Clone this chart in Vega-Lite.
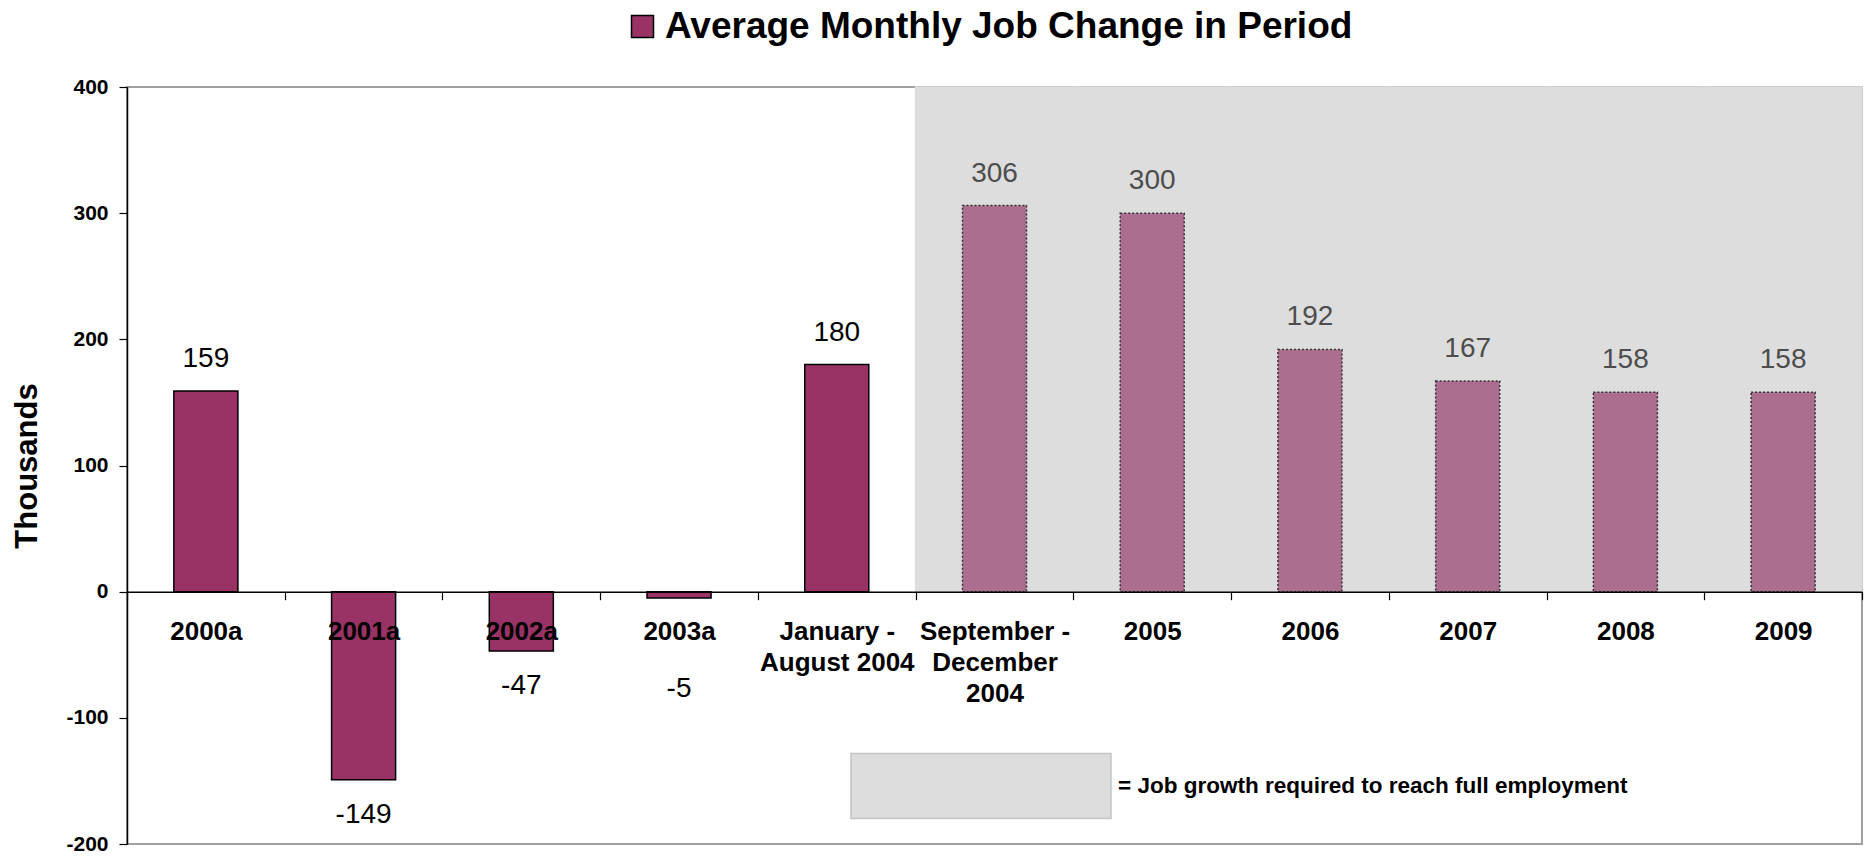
{
  "$schema": "https://vega.github.io/schema/vega-lite/v6.json",
  "autosize": "none",
  "width": 1735,
  "height": 757,
  "padding": {"left": 127, "top": 87, "right": 2, "bottom": 12},
  "background": "white",
  "config": {
    "font": "Liberation Sans",
    "view": {"stroke": "#a0a0a0", "strokeWidth": 2}
  },
  "data": {
    "values": [
      {"period": "2000a", "value": 159, "type": "actual"},
      {"period": "2001a", "value": -149, "type": "actual"},
      {"period": "2002a", "value": -47, "type": "actual"},
      {"period": "2003a", "value": -5, "type": "actual"},
      {"period": "January - August 2004", "value": 180, "type": "actual"},
      {"period": "September - December 2004", "value": 306, "type": "required"},
      {"period": "2005", "value": 300, "type": "required"},
      {"period": "2006", "value": 192, "type": "required"},
      {"period": "2007", "value": 167, "type": "required"},
      {"period": "2008", "value": 158, "type": "required"},
      {"period": "2009", "value": 158, "type": "required"}
    ]
  },
  "encoding": {
    "x": {
      "field": "period",
      "type": "nominal",
      "sort": ["2000a", "2001a", "2002a", "2003a", "January - August 2004", "September - December 2004", "2005", "2006", "2007", "2008", "2009"],
      "scale": {"paddingInner": 0, "paddingOuter": 0},
      "axis": {
        "title": null,
        "orient": "bottom",
        "offset": -252.3,
        "zindex": 2,
        "domainColor": "black",
        "domainWidth": 1.5,
        "tickColor": "black",
        "tickWidth": 1.2,
        "tickSize": 8,
        "tickBand": "extent",
        "labelAngle": 0,
        "labelFont": "Liberation Sans",
        "labelFontSize": 26,
        "labelFontWeight": "bold",
        "labelColor": "black",
        "labelPadding": 19,
        "labelLineHeight": 31,
        "labelBaseline": "top",
        "labelLimit": 400,
        "labelExpr": "datum.value == 'January - August 2004' ? ['January -', 'August 2004'] : datum.value == 'September - December 2004' ? ['September -', 'December', '2004'] : datum.value"
      }
    },
    "y": {
      "field": "value",
      "type": "quantitative",
      "scale": {"domain": [-200, 400], "nice": false, "zero": false},
      "axis": {
        "title": "Thousands",
        "titleFont": "Liberation Sans",
        "titleFontSize": 31,
        "titleFontWeight": "bold",
        "titleColor": "black",
        "titlePadding": 22,
        "values": [-200, -100, 0, 100, 200, 300, 400],
        "grid": false,
        "zindex": 2,
        "domainColor": "black",
        "domainWidth": 1.5,
        "tickColor": "black",
        "tickWidth": 1.2,
        "tickSize": 8,
        "labelFont": "Liberation Sans",
        "labelFontSize": 21,
        "labelFontWeight": "bold",
        "labelColor": "black",
        "labelPadding": 11,
        "labelExpr": "'' + datum.value"
      }
    }
  },
  "resolve": {"scale": {"fill": "independent"}, "legend": {"fill": "independent"}},
  "layer": [
    {
      "transform": [{"filter": "datum.type == 'required'"}],
      "mark": {"type": "bar", "width": {"band": 1}, "stroke": "#dddddd", "strokeWidth": 1.5},
      "encoding": {
        "y": {"datum": 400},
        "y2": {"datum": 0},
        "fill": {
          "datum": "= Job growth required to reach full employment",
          "type": "nominal",
          "scale": {"range": ["#dddddd"]},
          "legend": {
            "orient": "none",
            "legendX": 723,
            "legendY": 568,
            "title": null,
            "padding": 0,
            "symbolType": "M-1,-0.25H1V0.25H-1Z",
            "symbolSize": 67600,
            "symbolFillColor": "#dddddd",
            "symbolStrokeColor": "#c4c4c4",
            "symbolStrokeWidth": 1.5,
            "symbolOpacity": 1,
            "labelFont": "Liberation Sans",
            "labelFontSize": 22.5,
            "labelFontWeight": "bold",
            "labelColor": "black",
            "labelOffset": 6,
            "labelLimit": 1000
          }
        }
      }
    },
    {
      "transform": [{"filter": "datum.type == 'actual'"}],
      "mark": {"type": "bar", "width": {"band": 0.406}, "stroke": "black", "strokeWidth": 1.5},
      "encoding": {
        "fill": {
          "datum": "Average Monthly Job Change in Period",
          "type": "nominal",
          "scale": {"range": ["#993366"]},
          "legend": {
            "orient": "none",
            "legendX": 497,
            "legendY": -79,
            "title": null,
            "padding": 0,
            "symbolType": "square",
            "symbolSize": 484,
            "symbolStrokeColor": "black",
            "symbolStrokeWidth": 1.5,
            "symbolOpacity": 1,
            "labelFont": "Liberation Sans",
            "labelFontSize": 37,
            "labelFontWeight": "bold",
            "labelColor": "black",
            "labelOffset": 4,
            "labelLimit": 1000
          }
        }
      }
    },
    {
      "transform": [{"filter": "datum.type == 'required'"}],
      "mark": {"type": "bar", "width": {"band": 0.406}, "fill": "#ab6e8f", "stroke": "#333333", "strokeWidth": 1.5, "strokeDash": [2, 2]},
      "encoding": {}
    },
    {
      "transform": [{"filter": "datum.type == 'actual' && datum.value >= 0"}],
      "mark": {"type": "text", "dy": -24, "baseline": "alphabetic", "fontSize": 28, "color": "black", "font": "Liberation Sans"},
      "encoding": {"text": {"field": "value", "type": "nominal"}}
    },
    {
      "transform": [{"filter": "datum.type == 'actual' && datum.value < -20"}],
      "mark": {"type": "text", "dy": 43, "baseline": "alphabetic", "fontSize": 28, "color": "black", "font": "Liberation Sans"},
      "encoding": {"text": {"field": "value", "type": "nominal"}}
    },
    {
      "transform": [{"filter": "datum.type == 'actual' && datum.value < 0 && datum.value >= -20"}],
      "mark": {"type": "text", "dy": 99, "baseline": "alphabetic", "fontSize": 28, "color": "black", "font": "Liberation Sans"},
      "encoding": {"text": {"field": "value", "type": "nominal"}}
    },
    {
      "transform": [{"filter": "datum.type == 'required'"}],
      "mark": {"type": "text", "dy": -24, "baseline": "alphabetic", "fontSize": 28, "color": "#4d4d4d", "font": "Liberation Sans"},
      "encoding": {"text": {"field": "value", "type": "nominal"}}
    }
  ]
}
